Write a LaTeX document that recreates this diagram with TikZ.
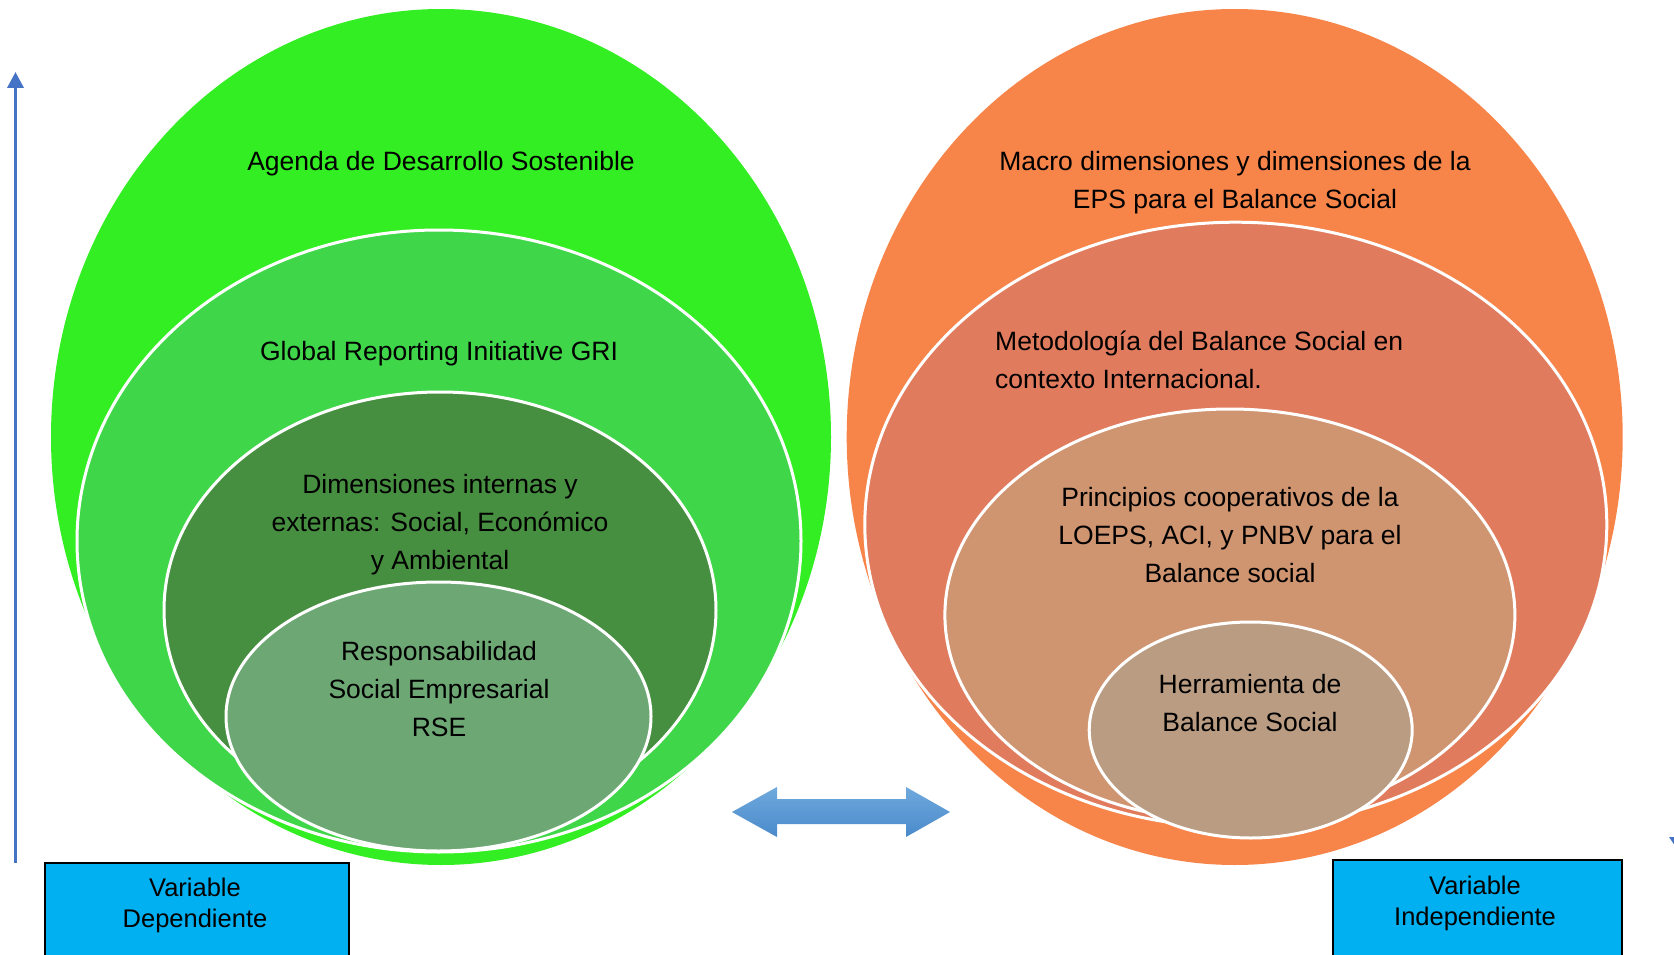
\documentclass[tikz,border=0pt]{standalone}
\usepackage{fontspec}
\setmainfont{Liberation Sans}
\usetikzlibrary{shapes.geometric,arrows.meta}
\definecolor{gA}{HTML}{33EE22}
\definecolor{gB}{HTML}{40D64A}
\definecolor{gC}{HTML}{478F40}
\definecolor{gD}{HTML}{6DA874}
\definecolor{oA}{HTML}{F78449}
\definecolor{oB}{HTML}{E17B5D}
\definecolor{oC}{HTML}{CF9470}
\definecolor{oD}{HTML}{B99C82}
\definecolor{boxblue}{HTML}{00B0F0}
\definecolor{axisblue}{HTML}{4472C4}
\definecolor{arrtop}{HTML}{6FA9DD}
\definecolor{arrbot}{HTML}{4A8ACB}
\tikzset{
  ell/.style={ellipse, inner sep=0pt, outer sep=0pt},
  ring/.style={ell, draw=white, line width=3pt},
  lbl/.style={font=\fontsize{26.5}{38}\selectfont, align=center, text=black, inner sep=0pt},
  varbox/.style={draw=black, line width=2pt, fill=boxblue, inner sep=0pt},
}
\begin{document}
\begin{tikzpicture}[x=1pt,y=-1pt]
\useasboundingbox (0,0) rectangle (1674,955);
% left nested ellipses
\node[ell, fill=gA, minimum width=780, minimum height=856] (L1) at (441,437) {};
\node[ring, fill=gB, minimum width=724, minimum height=622] (L2) at (439,541) {};
\node[ring, fill=gC, minimum width=552, minimum height=436] (L3) at (440,610) {};
\node[ring, fill=gD, minimum width=425, minimum height=269] (L4) at (438.5,716.5) {};
% right nested ellipses
\node[ell, fill=oA, minimum width=776, minimum height=856] (R1) at (1234.7,437) {};
\node[ring, fill=oB, minimum width=742, minimum height=605] (R2) at (1235.8,524.7) {};
\node[ring, fill=oC, minimum width=570, minimum height=412] (R3) at (1229.9,615) {};
\node[ring, fill=oD, minimum width=323, minimum height=216] (R4) at (1250.7,730) {};
% labels
\node[lbl] (t1) at (441,164) {Agenda de Desarrollo Sostenible};
\node[lbl] (t2) at (439,354) {Global Reporting Initiative GRI};
\node[lbl] (t3) at (440,524.5) {Dimensiones internas y\\externas: Social, Económico\\y Ambiental};
\node[lbl] (t4) at (439,689) {Responsabilidad\\Social Empresarial\\RSE};
\node[lbl] (t5) at (1235,183) {Macro dimensiones y dimensiones de la\\EPS para el Balance Social};
\node[lbl, align=left, anchor=west] (t6) at (995,360) {Metodología del Balance Social en\\contexto Internacional.};
\node[lbl] (t7) at (1230,535) {Principios cooperativos de la\\LOEPS, ACI, y PNBV para el\\Balance social};
\node[lbl] (t8) at (1250,703) {Herramienta de\\Balance Social};
% variable boxes
\node[varbox, anchor=north west, minimum width=304, minimum height=110] (vd) at (44,862) {};
\node[lbl, font=\fontsize{25.5}{31}\selectfont] (vdt) at (195,905) {Variable\\Dependiente};
\node[varbox, anchor=north west, minimum width=289, minimum height=110] (vi) at (1332,859) {};
\node[lbl, font=\fontsize{25.5}{31}\selectfont] (vit) at (1475,903) {Variable\\Independiente};
% vertical axis arrow
\coordinate (ax0) at (15.5,863);
\coordinate (ax1) at (15.5,72);
\draw[axisblue, line width=3.5pt, -{Triangle[width=16pt,length=16pt]}] (ax0) -- (ax1);
% cut-off arrow head at right edge
\fill[axisblue] (1669,837) -- (1680,837) -- (1674.5,845) -- cycle;
% double arrow
\shade[top color=arrtop, bottom color=arrbot]
  (732,812) -- (777,787) -- (777,799) -- (906,799) -- (906,787) -- (950,812)
  -- (906,837) -- (906,824) -- (777,824) -- (777,837) -- cycle;
\end{tikzpicture}
\end{document}
